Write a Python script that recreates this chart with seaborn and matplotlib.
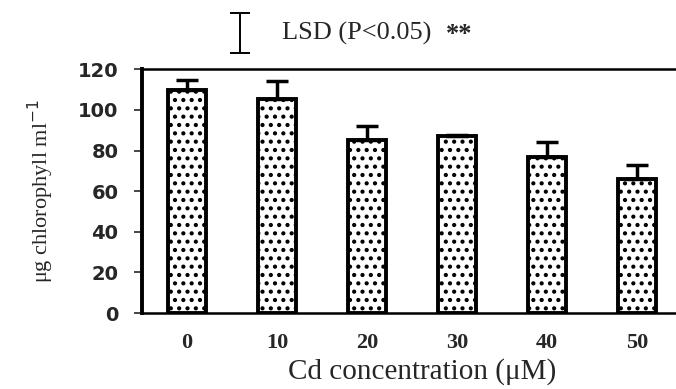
import matplotlib
matplotlib.use("Agg")
import matplotlib.pyplot as plt
import seaborn as sns
import pandas as pd

conc_labels = ["0", "10", "20", "30", "40", "50"]
chlorophyll = [110, 105.5, 85, 87, 77, 66]
err_up = [4.5, 8.5, 7, 0.5, 7, 7]
yticks = [0, 20, 40, 60, 80, 100, 120]
lsd_half = 9.8

sns.set_style("white")
plt.rcParams["hatch.linewidth"] = 1.8
plt.rcParams["hatch.color"] = "black"

fig = plt.figure(figsize=(6.76, 3.89), dpi=100)
ax = fig.add_axes([0.210, 0.195, 0.79, 0.627])

df = pd.DataFrame({"conc": conc_labels, "val": chlorophyll})
sns.barplot(data=df, x="conc", y="val", ax=ax, color="white",
            edgecolor="black", linewidth=2.8, width=0.42, errorbar=None)
for p in ax.patches:
    p.set_hatch("..")
    p.set_facecolor("white")

xs = list(range(len(chlorophyll)))
ax.errorbar(xs, chlorophyll, yerr=[[0] * len(err_up), err_up], fmt="none",
            ecolor="black", elinewidth=2.5, capsize=8, capthick=2.5, zorder=3)

ax.set_xlim(-0.5, 5.43)
ax.set_ylim(0, 120)
ax.set_yticks(yticks)
ax.set_yticklabels([str(t) for t in yticks], family="DejaVu Sans",
                   fontsize=14, fontweight="bold")
ax.set_xticks(xs)
ax.set_xticklabels(conc_labels, family="Liberation Serif", fontsize=16,
                   fontweight="bold")
ax.tick_params(axis="y", direction="out", length=6, width=1.2, pad=11, left=True)
ax.tick_params(axis="x", length=0, pad=14)

ax.spines["left"].set_linewidth(2.8)
ax.spines["top"].set_linewidth(1.8)
ax.spines["bottom"].set_linewidth(1.8)
ax.spines["right"].set_visible(False)
for s in ["left", "top", "bottom"]:
    ax.spines[s].set_color("black")

ax.set_xlabel("Cd concentration (\u03bcM)", family="Liberation Serif",
              fontsize=21, labelpad=4)
ax.xaxis.label.set_x(0.524)
ax.set_ylabel("\u03bcg chlorophyll ml$^{\\mathrm{-1}}$", family="Liberation Serif",
              fontsize=16, labelpad=16)

# LSD indicator
ax.errorbar([0.59], [137.7], yerr=[lsd_half], fmt="none", ecolor="black",
            elinewidth=1.4, capsize=7, capthick=1.4, clip_on=False)
ax.text(1.06, 137.7, "LSD (P<0.05)", family="Liberation Serif",
        fontsize=19, va="center", ha="left", clip_on=False)
ax.text(2.88, 137.0, "**", family="Liberation Serif", fontweight="bold",
        fontsize=19, va="center", ha="left", clip_on=False)

fig.savefig("out.png", dpi=100)
